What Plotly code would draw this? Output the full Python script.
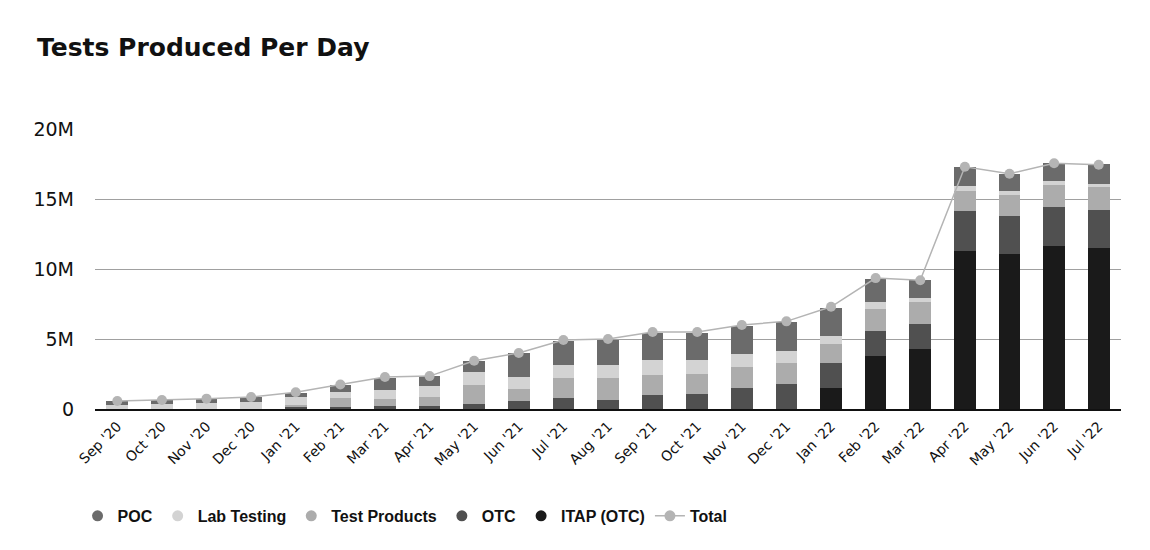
import plotly.graph_objects as go

months = ["Sep '20", "Oct '20", "Nov '20", "Dec '20", "Jan '21", "Feb '21", "Mar '21",
          "Apr '21", "May '21", "Jun '21", "Jul '21", "Aug '21", "Sep '21", "Oct '21",
          "Nov '21", "Dec '21", "Jan '22", "Feb '22", "Mar '22", "Apr '22", "May '22",
          "Jun '22", "Jul '22"]

# values in millions of tests per day
itap = [0, 0, 0, 0, 0, 0, 0, 0, 0, 0, 0, 0, 0, 0, 0, 0, 1.5, 3.79, 4.29, 11.29, 11.07, 11.64, 11.5]
otc = [0, 0, 0, 0, 0.17, 0.14, 0.21, 0.21, 0.36, 0.57, 0.79, 0.64, 1.0, 1.07, 1.5, 1.79, 1.79,
       1.79, 1.79, 2.86, 2.71, 2.79, 2.71]
test_products = [0, 0, 0, 0, 0.12, 0.64, 0.5, 0.64, 1.36, 0.86, 1.43, 1.57, 1.43, 1.43, 1.5,
                 1.5, 1.36, 1.57, 1.57, 1.43, 1.5, 1.57, 1.64]
lab_testing = [0.3, 0.38, 0.45, 0.5, 0.57, 0.45, 0.64, 0.79, 0.93, 0.86, 0.93, 0.93, 1.07, 1.0,
               0.93, 0.86, 0.57, 0.48, 0.29, 0.36, 0.29, 0.29, 0.21]
poc = [0.28, 0.26, 0.29, 0.36, 0.31, 0.5, 0.9, 0.69, 0.79, 1.71, 1.74, 1.79, 1.95, 1.95, 2.02,
       2.1, 2.0, 1.69, 1.24, 1.36, 1.24, 1.29, 1.43]
total = [0.57, 0.64, 0.74, 0.86, 1.2, 1.75, 2.28, 2.35, 3.45, 4.0, 4.93, 5.0, 5.5, 5.5, 6.0,
         6.26, 7.3, 9.35, 9.2, 17.3, 16.8, 17.55, 17.45]

M = 1e6
col_poc = "#6b6b6b"
col_lab = "#d3d3d3"
col_tp = "#acacac"
col_otc = "#505050"
col_itap = "#1a1a1a"
col_total = "#b4b4b4"

WIDE = "DejaVu Sans, Verdana, sans-serif"
LEG = "Liberation Sans, Arial, sans-serif"

fig = go.Figure()

stack = [
    ("ITAP (OTC)", itap, col_itap),
    ("OTC", otc, col_otc),
    ("Test Products", test_products, col_tp),
    ("Lab Testing", lab_testing, col_lab),
    ("POC", poc, col_poc),
]
for name, vals, col in stack:
    fig.add_trace(go.Bar(x=months, y=[v * M for v in vals], name=name,
                         marker=dict(color=col, line=dict(width=0)),
                         showlegend=False))

fig.add_trace(go.Scatter(x=months, y=[v * M for v in total], name="Total",
                         mode="lines+markers",
                         line=dict(color=col_total, width=1.5),
                         marker=dict(color=col_total, size=10),
                         showlegend=False))

# legend entries (circle markers)
legend_items = [("POC", col_poc), ("Lab Testing", col_lab), ("Test Products", col_tp),
                ("OTC", col_otc), ("ITAP (OTC)", col_itap)]
for name, col in legend_items:
    fig.add_trace(go.Scatter(x=[None], y=[None], mode="markers", name=name,
                             marker=dict(color=col, size=11), showlegend=True))
fig.add_trace(go.Scatter(x=[None], y=[None], mode="lines+markers", name="Total",
                         line=dict(color=col_total, width=1.5),
                         marker=dict(color=col_total, size=11), showlegend=True))

fig.update_layout(
    width=1150, height=550,
    barmode="stack",
    bargap=0.515,
    plot_bgcolor="white", paper_bgcolor="white",
    margin=dict(l=87, r=37, t=121, b=149),
    title=dict(text="<b>Tests Produced Per Day</b>", x=29 / 1150, xref="container",
               xanchor="left", y=1 - 39 / 550, yanchor="middle",
               font=dict(family=WIDE, size=25, color="#111111")),
    font=dict(family=WIDE, color="#111111"),
    legend=dict(orientation="h", x=-0.017, xanchor="left", y=-0.382, yanchor="middle",
                font=dict(family=LEG, size=16, color="#111111", weight="bold"),
                traceorder="normal", itemwidth=30, itemclick=False),
    showlegend=True,
)

fig.update_xaxes(type="category", categoryorder="array", categoryarray=months,
                 range=[-0.5, len(months) - 0.5], tickangle=-45,
                 tickfont=dict(family=WIDE, size=14, color="#111111"),
                 showgrid=False, showline=True, linecolor="#111111", linewidth=1.5,
                 ticks="", ticklabelstandoff=2)
fig.update_yaxes(range=[0, 20 * M], tickvals=[0, 5 * M, 10 * M, 15 * M, 20 * M],
                 ticktext=["0", "5M", "10M", "15M", "20M"],
                 tickfont=dict(family=WIDE, size=19, color="#111111"),
                 showgrid=True, gridcolor="#a0a0a0", gridwidth=1,
                 zeroline=False, showline=False, ticks="", ticklabelstandoff=20)

fig.write_html("out.html")
